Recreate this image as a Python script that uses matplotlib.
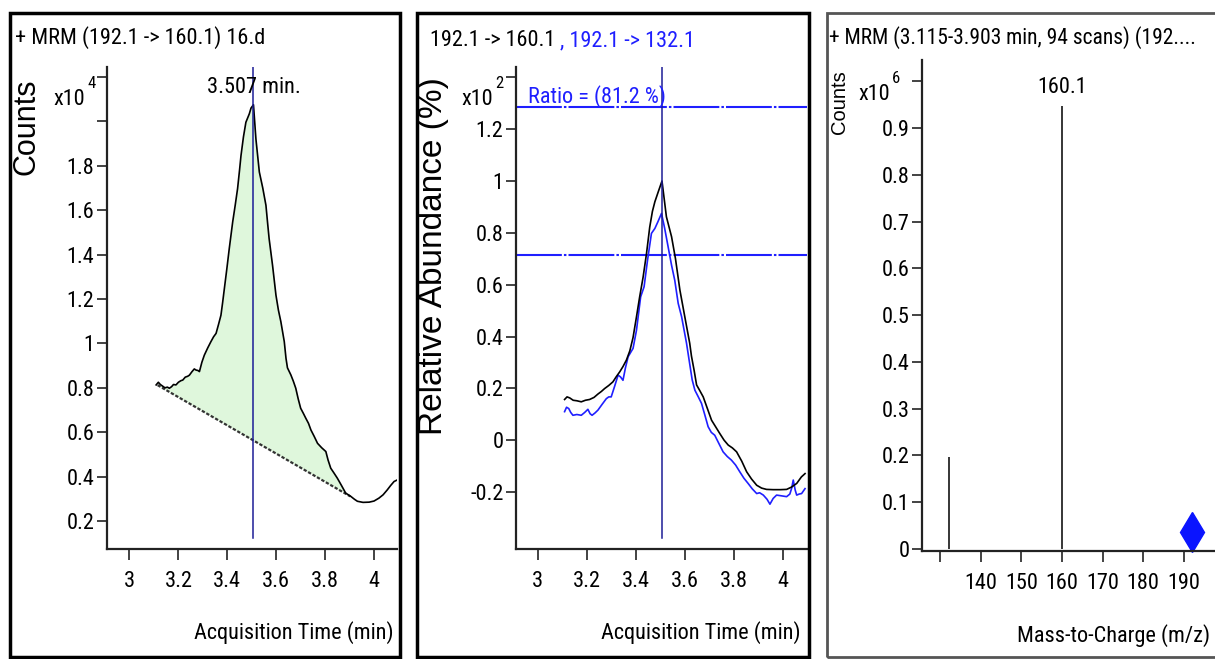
import numpy as np
import matplotlib
matplotlib.use("Agg")
import matplotlib.pyplot as plt
import matplotlib.font_manager as fm
from matplotlib.patches import Rectangle

tempo_quant = [3.109, 3.118, 3.126, 3.135, 3.145, 3.155, 3.163, 3.172, 3.180, 3.190,
               3.200, 3.210, 3.218, 3.228, 3.238, 3.245, 3.255, 3.265, 3.272, 3.280,
               3.286, 3.296, 3.306, 3.320, 3.333, 3.344, 3.354, 3.364, 3.374, 3.381,
               3.388, 3.398, 3.408, 3.422, 3.432, 3.442, 3.450, 3.456, 3.466, 3.476,
               3.490, 3.497, 3.507, 3.517, 3.531, 3.545, 3.558, 3.565, 3.571, 3.585,
               3.599, 3.609, 3.619, 3.633, 3.640, 3.646, 3.660, 3.670, 3.680, 3.690,
               3.700, 3.711, 3.721, 3.732, 3.742, 3.755, 3.769, 3.786, 3.803, 3.812,
               3.823, 3.837, 3.850, 3.867, 3.884, 3.895, 3.905, 3.920, 3.932, 3.955,
               3.980, 4.000, 4.020, 4.037, 4.054, 4.068, 4.082, 4.095]
counts_quant = [0.813, 0.825, 0.815, 0.808, 0.800, 0.803, 0.798, 0.805, 0.815, 0.813,
                0.825, 0.832, 0.835, 0.848, 0.852, 0.857, 0.872, 0.885, 0.880, 0.878,
                0.873, 0.915, 0.947, 0.980, 1.008, 1.030, 1.045, 1.085, 1.127, 1.185,
                1.247, 1.335, 1.427, 1.547, 1.620, 1.697, 1.780, 1.846, 1.930, 1.996,
                2.034, 2.060, 2.075, 1.921, 1.772, 1.700, 1.622, 1.540, 1.472, 1.352,
                1.217, 1.150, 1.098, 1.008, 0.933, 0.890, 0.858, 0.830, 0.798, 0.750,
                0.708, 0.685, 0.663, 0.640, 0.610, 0.582, 0.550, 0.530, 0.513, 0.475,
                0.438, 0.415, 0.393, 0.360, 0.326, 0.318, 0.311, 0.298, 0.289, 0.284,
                0.285, 0.290, 0.303, 0.318, 0.340, 0.360, 0.378, 0.385]
linha_base_t = [3.115, 3.903]
linha_base_y = [0.812, 0.311]
tempo_retencao = 3.507

# Abundancia relativa (x10^2 %)
tempo_alvo = [3.110, 3.120, 3.131, 3.145, 3.160, 3.178, 3.195, 3.212, 3.230, 3.246,
              3.260, 3.273, 3.290, 3.307, 3.320, 3.335, 3.348, 3.362, 3.376, 3.389,
              3.403, 3.416, 3.430, 3.444, 3.457, 3.468, 3.478, 3.492, 3.507, 3.525,
              3.546, 3.562, 3.580, 3.600, 3.620, 3.627, 3.638, 3.648, 3.660, 3.675,
              3.692, 3.709, 3.726, 3.743, 3.760, 3.777, 3.794, 3.811, 3.832, 3.852,
              3.872, 3.893, 3.913, 3.933, 3.960, 3.990, 4.015, 4.035, 4.056, 4.075, 4.090]
abund_alvo = [0.157, 0.167, 0.163, 0.154, 0.152, 0.148, 0.154, 0.157, 0.165, 0.178,
              0.188, 0.199, 0.211, 0.225, 0.244, 0.264, 0.284, 0.309, 0.345, 0.396,
              0.476, 0.553, 0.629, 0.721, 0.822, 0.883, 0.920, 0.959, 1.000, 0.862,
              0.785, 0.700, 0.579, 0.476, 0.374, 0.325, 0.269, 0.213, 0.193, 0.167,
              0.122, 0.077, 0.051, 0.025, 0.000, -0.019, -0.030, -0.045, -0.081, -0.122,
              -0.150, -0.174, -0.185, -0.190, -0.191, -0.191, -0.190, -0.181, -0.167, -0.142, -0.129]

tempo_qual = [3.110, 3.118, 3.127, 3.135, 3.144, 3.160, 3.178, 3.192, 3.205, 3.214,
              3.222, 3.234, 3.246, 3.262, 3.280, 3.290, 3.300, 3.314, 3.328, 3.338,
              3.348, 3.358, 3.369, 3.389, 3.403, 3.420, 3.434, 3.448, 3.464, 3.478,
              3.490, 3.505, 3.518, 3.532, 3.546, 3.559, 3.573, 3.587, 3.607, 3.620,
              3.630, 3.641, 3.655, 3.668, 3.682, 3.695, 3.708, 3.722, 3.740, 3.756,
              3.773, 3.790, 3.807, 3.824, 3.841, 3.858, 3.875, 3.893, 3.905, 3.920,
              3.935, 3.947, 3.960, 3.974, 3.995, 4.015, 4.028, 4.035, 4.042, 4.050,
              4.056, 4.066, 4.076, 4.090]
abund_qual = [0.110, 0.127, 0.122, 0.107, 0.096, 0.099, 0.096, 0.107, 0.119, 0.102,
              0.096, 0.105, 0.116, 0.137, 0.160, 0.167, 0.167, 0.208, 0.251, 0.244,
              0.231, 0.279, 0.322, 0.354, 0.424, 0.553, 0.592, 0.694, 0.798, 0.817,
              0.842, 0.875, 0.817, 0.746, 0.675, 0.617, 0.528, 0.476, 0.374, 0.294,
              0.233, 0.193, 0.167, 0.142, 0.096, 0.052, 0.030, 0.019, -0.015, -0.045,
              -0.063, -0.077, -0.096, -0.122, -0.147, -0.167, -0.188, -0.206, -0.203, -0.212,
              -0.228, -0.247, -0.225, -0.212, -0.215, -0.218, -0.208, -0.187, -0.154, -0.193,
              -0.212, -0.208, -0.206, -0.187]
faixa_razao = [1.287, 0.716]
texto_razao = "Ratio = (81.2 %)"

# Espectro (x10^6 counts)
mz = [132.1, 160.1]
intensidade = [0.196, 0.947]
precursor_mz = 192.1
precursor_y = 0.035

# Fontes: usa uma fonte estreita se houver
nomes = {f.name for f in fm.fontManager.ttflist}
estreita = None
for candidata in ["Liberation Sans Narrow", "Arial Narrow", "Roboto Condensed",
                  "Archivo Narrow", "PT Sans Narrow"]:
    if candidata in nomes:
        estreita = candidata
        break
if estreita:
    plt.rcParams["font.family"] = [estreita, "DejaVu Sans"]
    FS = 16
else:
    plt.rcParams["font.family"] = ["Liberation Sans", "DejaVu Sans"]
    FS = 14
normal = ["Liberation Sans", "DejaVu Sans"]

W, H = 1215, 659
AZUL = "#1f1fff"
MARINHO = "#1c1c96"


def caixa(l, t, r, b):
    return [l / W, 1 - b / H, (r - l) / W, (b - t) / H]


def px(x, y):
    return x / W, 1 - y / H


def estilo(ax, yticks, xticks, mostra_primeiro_x=True):
    for s in ["top", "right"]:
        ax.spines[s].set_visible(False)
    for s in ["left", "bottom"]:
        ax.spines[s].set_linewidth(1.6)
        ax.spines[s].set_color("#222222")
    ax.patch.set_alpha(0)
    ax.set_yticks(yticks)
    # o ultimo tick leva o expoente (x10^n) escrito a parte
    ax.set_yticklabels([f"{v:g}" for v in yticks[:-1]] + [""])
    ax.set_xticks(xticks)
    rot = [f"{v:g}" for v in xticks]
    if not mostra_primeiro_x:
        rot[0] = ""
    ax.set_xticklabels(rot)
    ax.tick_params(axis="y", direction="out", length=7, width=1.2, colors="#222222",
                   labelcolor="black", labelsize=FS, pad=2)
    ax.tick_params(axis="x", direction="out", length=8, width=1.2, colors="#222222",
                   labelcolor="black", labelsize=FS, pad=8)


def expoente(x, y, n):
    fig.text(*px(x, y), "x10", ha="right", va="baseline", fontsize=FS)
    fig.text(*px(x + 2, y - 17), n, ha="left", va="baseline", fontsize=FS * 0.75)


fig = plt.figure(figsize=(12.15, 6.59), dpi=100)

# Bordas dos paineis
for (l, t, r, b, cor, lw) in [(10, 13, 400, 657, "black", 2.5),
                              (417, 13, 809, 657, "black", 2.5),
                              (827, 13, 1230, 657, "#555555", 2.0)]:
    fig.add_artist(Rectangle(px(l, b), (r - l) / W, (b - t) / H, transform=fig.transFigure,
                             fill=False, lw=lw, ec=cor))

# Painel 1: cromatograma integrado
ax1 = fig.add_axes(caixa(107, 67, 397, 549))
ax1.set_xlim(2.908, 4.094)
ax1.set_ylim(0.074, 2.245)
estilo(ax1, [0.2, 0.4, 0.6, 0.8, 1.0, 1.2, 1.4, 1.6, 1.8, 2.0, 2.2], [3, 3.2, 3.4, 3.6, 3.8, 4])
ax1.set_yticklabels(["0.2", "0.4", "0.6", "0.8", "1", "1.2", "1.4", "1.6", "1.8", "", ""])
t = np.array(tempo_quant)
c = np.array(counts_quant)
dentro = (t >= linha_base_t[0]) & (t <= linha_base_t[1])
base = np.interp(t[dentro], linha_base_t, linha_base_y)
ax1.fill_between(t[dentro], base, c[dentro], color="#dff7dc", lw=0)
ax1.plot(linha_base_t, linha_base_y, color="#333333", lw=1.6, ls=(0, (1.5, 0.8)))
ax1.plot(t, c, color="black", lw=1.2)
ax1.axvline(tempo_retencao, ymin=0.023, ymax=1, color=MARINHO, lw=1.1)
ax1.text(tempo_retencao, 0.958, f"{tempo_retencao:.3f} min.", transform=ax1.get_xaxis_transform(),
         ha="center", va="center", fontsize=FS)

# Painel 2: razao do qualificador
ax2 = fig.add_axes(caixa(516, 67, 807, 549))
ax2.set_xlim(2.912, 4.098)
ax2.set_ylim(-0.42, 1.44)
estilo(ax2, [-0.2, 0, 0.2, 0.4, 0.6, 0.8, 1.0, 1.2, 1.4], [3, 3.2, 3.4, 3.6, 3.8, 4])
for nivel in faixa_razao:
    ax2.axhline(nivel, color=AZUL, lw=1.5, ls=(0, (22, 1, 1.2, 1)))
ax2.plot(tempo_qual, abund_qual, color=AZUL, lw=1.2)
ax2.plot(tempo_alvo, abund_alvo, color="black", lw=1.2)
ax2.axvline(tempo_retencao, ymin=0.023, ymax=1, color=MARINHO, lw=1.1)
ax2.text(0.041, 0.938, texto_razao, transform=ax2.transAxes, ha="left", va="center",
         color=AZUL, fontsize=FS)

# Painel 3: espectro
ax3 = fig.add_axes(caixa(922, 60, 1215, 551))
ax3.set_xlim(125.5, 197.7)
ax3.set_ylim(-0.005, 1.046)
estilo(ax3, [0, 0.1, 0.2, 0.3, 0.4, 0.5, 0.6, 0.7, 0.8, 0.9, 1.0],
       [130, 140, 150, 160, 170, 180, 190], mostra_primeiro_x=False)
ax3.vlines(mz, 0, intensidade, color="black", lw=1.1)
ax3.plot([precursor_mz], [precursor_y], marker="d", ms=20, color="#0a14ff", mec="#0a14ff",
         clip_on=False)
ax3.annotate(f"{mz[1]:.1f}", (mz[1], intensidade[1]), xytext=(0, 6), textcoords="offset points",
             ha="center", va="bottom", fontsize=FS)

# Textos fora dos eixos
fig.text(*px(15, 38), "+ MRM (192.1 -> 160.1) 16.d", ha="left", va="center", fontsize=FS)
t1 = fig.text(*px(430, 41), "192.1 -> 160.1 ", ha="left", va="center", fontsize=FS)
ax2.annotate(", 192.1 -> 132.1", xy=(1, 0.5), xycoords=t1, ha="left", va="center",
             color=AZUL, fontsize=FS, annotation_clip=False)
fig.text(*px(829, 38), "+ MRM (3.115-3.903 min, 94 scans) (192....", ha="left", va="center",
         fontsize=FS * 0.97)

fig.text(*px(26, 127), "Counts", rotation=90, ha="center", va="center", fontsize=22, family=normal)
fig.text(*px(434, 256), "Relative Abundance (%)", rotation=90, ha="center", va="center",
         fontsize=24, family=normal)
fig.text(*px(840, 102), "Counts", rotation=90, ha="center", va="center", fontsize=14.5, family=normal)

fig.text(*px(394, 633), "Acquisition Time (min)", ha="right", va="center", fontsize=FS)
fig.text(*px(801, 633), "Acquisition Time (min)", ha="right", va="center", fontsize=FS)
fig.text(*px(1210, 636), "Mass-to-Charge (m/z)", ha="right", va="center", fontsize=FS)

expoente(85, 105, "4")
expoente(493, 105, "2")
expoente(890, 100, "6")

fig.savefig("out.png", dpi=100)
